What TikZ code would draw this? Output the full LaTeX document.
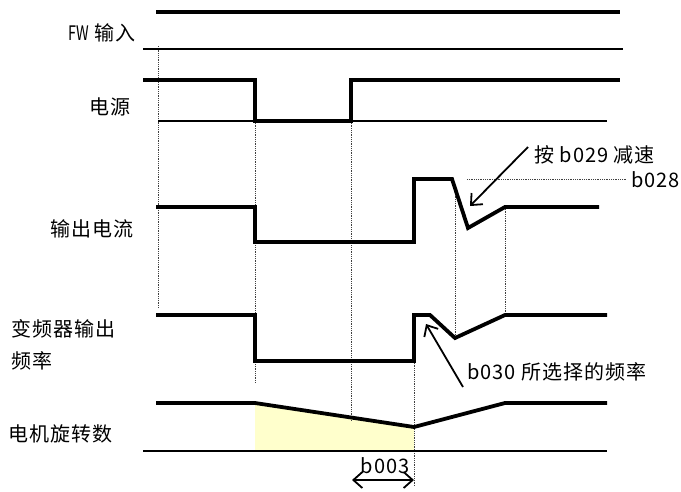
\documentclass[tikz,border=0pt]{standalone}
\usepackage{fontspec}
\newfontfamily\cjk{Noto Sans CJK SC}[LetterSpace=5]
\newfontfamily\cjknarrow{Noto Sans CJK SC}[FakeStretch=0.72]
\usetikzlibrary{arrows.meta}
\definecolor{yellowfill}{RGB}{255,255,204}
\begin{document}
\begin{tikzpicture}[x=1pt,y=-1pt,
  sig/.style={line width=3.8pt, line join=miter},
  base/.style={line width=1.5pt},
  guide/.style={densely dotted, line width=0.8pt, black!75},
  lbl/.style={font=\cjk\fontsize{20}{32}\selectfont, inner sep=0pt},
  tipb/.tip={Straight Barb[length=9pt,width=16pt,line width=1.8pt]},
  callout/.style={line width=1.8pt, -tipb},
]
\useasboundingbox (0,0) rectangle (681,491);

% yellow area
\fill[yellowfill] (255,403) -- (414,427) -- (414,451) -- (255,451) -- cycle;

% guides
\draw[guide] (158,46) -- (158,308);
\draw[guide] (255,121) -- (255,383);
\draw[guide] (351,121) -- (351,420);
\draw[guide] (455,192) -- (455,338);
\draw[guide] (505,207) -- (505,314);
\draw[guide] (414,361) -- (414,486);
\draw[guide] (467,179) -- (627,179);

% FW input
\draw[sig] (156,12) -- (620,12);
\draw[base] (143,49) -- (623,49);

% power
\draw[base] (158,121) -- (607,121);
\draw[sig] (143,80) -- (255,80) -- (255,121) -- (351,121) -- (351,80) -- (620,80);

% output current
\draw[sig] (156,207) -- (255,207) -- (255,242) -- (414,242) -- (414,179) -- (452,179) -- (468,228) -- (505,207) -- (599,207);

% inverter output frequency
\draw[sig] (156,315) -- (255,315) -- (255,361) -- (414,361) -- (414,315) -- (430,315) -- (455,338) -- (505,315) -- (607,315);

% motor speed
\draw[sig] (156,403) -- (255,403) -- (414,427) -- (505,403) -- (607,403);
\draw[line width=2.2pt] (143,451) -- (607,451);

% labels
\node[lbl, anchor=east] (fw) at (136,33) {{\cjknarrow FW} 输入};
\node[lbl, anchor=east] (pw) at (131,107) {电源};
\node[lbl, anchor=east] (oc) at (134,229) {输出电流};
\node[lbl, anchor=west, align=left] (of) at (11,345) {变频器输出\\频率};
\node[lbl, anchor=west] (ms) at (8,434) {电机旋转数};

\node[lbl, anchor=west] (t029) at (534,155) {按 b029 减速};
\node[lbl, anchor=east] (t028) at (680,180) {b028};
\node[lbl, anchor=west] (t030) at (467,372) {b030 所选择的频率};
\node[lbl] (t003) at (385,466) {b003};

% callouts
\coordinate (a1s) at (528,147);
\coordinate (a1e) at (470,206);
\draw[callout] (a1s) -- (a1e);
\coordinate (a2s) at (463,387);
\coordinate (a2e) at (426,324);
\draw[callout] (a2s) -- (a2e);
\coordinate (d1) at (352,480);
\coordinate (d2) at (414,480);
\draw[line width=1.8pt, tipb-tipb] (d1) -- (d2);
\end{tikzpicture}
\end{document}
